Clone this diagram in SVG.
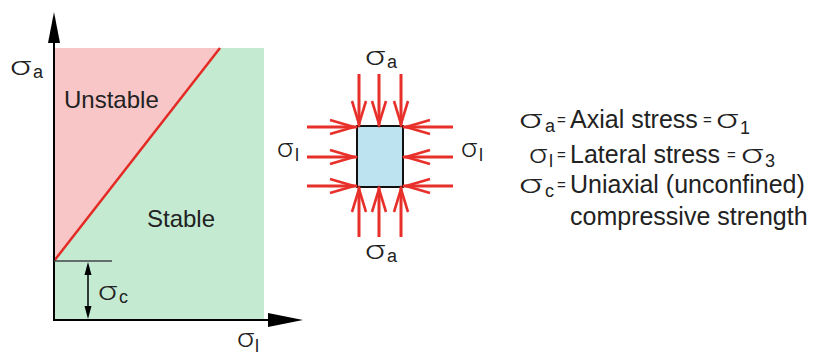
<svg xmlns="http://www.w3.org/2000/svg" width="823" height="355" viewBox="0 0 823 355">
<defs>
<style>
text{font-family:"Liberation Sans",Arial,sans-serif;fill:#222}
.t{font-size:24px}
.r{font-size:25px}
.sg{font-family:Roboto,"Liberation Sans",sans-serif;font-weight:300;font-size:26px}
.sub{font-size:18px}
.eq{font-size:15px}
.ar{stroke:#e8302a;stroke-width:3;fill:none;stroke-linecap:butt}
.hd{stroke:#e8302a;stroke-width:2.6;fill:none;stroke-linejoin:miter}
</style>
</defs>
<rect width="823" height="355" fill="#fff"/>
<g id="chart">
<rect x="54" y="48" width="210" height="272" fill="#c4ebd2"/>
<polygon points="54,48 220,48 54,261" fill="#f8c6c6"/>
<line x1="54" y1="261" x2="220" y2="48" stroke="#e42a25" stroke-width="2.5"/>
<text class="t" x="64" y="108">Unstable</text>
<text class="t" x="147" y="227">Stable</text>
</g>
<g id="axes">
<line x1="54" y1="321" x2="54" y2="38" stroke="#000" stroke-width="2"/>
<polygon points="54,12 48,43 60,43" fill="#000"/>
<line x1="53" y1="320" x2="272" y2="320" stroke="#000" stroke-width="2"/>
<polygon points="303,320 268,313 268,327" fill="#000"/>
<text class="sg" x="10" y="75" textLength="21" lengthAdjust="spacingAndGlyphs">σ</text>
<text class="sub" x="33" y="78">a</text>
<text class="sg" x="237" y="347" textLength="17" lengthAdjust="spacingAndGlyphs">σ</text>
<text class="sub" x="255" y="352">l</text>
</g>
<g id="sigma-c">
<line x1="54" y1="261" x2="112" y2="261" stroke="#444" stroke-width="1.5"/>
<line x1="88" y1="268" x2="88" y2="313" stroke="#000" stroke-width="1.5"/>
<polygon points="88,262 84.5,275 91.5,275" fill="#000"/>
<polygon points="88,319 84.5,306 91.5,306" fill="#000"/>
<text class="sg" x="98" y="300" textLength="19" lengthAdjust="spacingAndGlyphs">σ</text>
<text class="sub" x="119" y="303">c</text>
</g>
<g id="specimen">
<rect x="357" y="126" width="46" height="61" fill="#bde3f1" stroke="#111" stroke-width="2"/>
</g>
<g id="connectors">
<path class="ar" d="M359,74V126M379,74V126M401,74V126"/>
<path class="hd" d="M352,101L359,124L366,101M372,101L379,124L386,101M394,101L401,124L408,101"/>
<path class="ar" d="M359,237V187M379,237V187M401,237V187"/>
<path class="hd" d="M352,212L359,189L366,212M372,212L379,189L386,212M394,212L401,189L408,212"/>
<path class="ar" d="M307,127H357M307,157H357M307,186H357"/>
<path class="hd" d="M330,120L354,127L330,134M330,150L354,157L330,164M330,179L354,186L330,193"/>
<path class="ar" d="M453,127H403M453,157H403M453,186H403"/>
<path class="hd" d="M430,120L406,127L430,134M430,150L406,157L430,164M430,179L406,186L430,193"/>
</g>
<g id="specimen-labels">
<text class="sg" x="365" y="65" textLength="20" lengthAdjust="spacingAndGlyphs">σ</text>
<text class="sub" x="387" y="68">a</text>
<text class="sg" x="365" y="259" textLength="20" lengthAdjust="spacingAndGlyphs">σ</text>
<text class="sub" x="387" y="262">a</text>
<text class="sg" x="277" y="157" textLength="16" lengthAdjust="spacingAndGlyphs">σ</text>
<text class="sub" x="295" y="161">l</text>
<text class="sg" x="461" y="157" textLength="16" lengthAdjust="spacingAndGlyphs">σ</text>
<text class="sub" x="479" y="161">l</text>
</g>
<g id="legend">
<text class="sg" x="519" y="128" textLength="23" lengthAdjust="spacingAndGlyphs">σ</text>
<text class="sub" x="545" y="132">a</text>
<text class="eq" x="557" y="125">=</text>
<text class="r" x="570" y="128">Axial stress</text>
<text class="eq" x="703" y="125">=</text>
<text class="sg" x="716" y="128" textLength="22" lengthAdjust="spacingAndGlyphs">σ</text>
<text class="sub" x="740" y="134">1</text>
<text class="sg" x="529" y="163" textLength="18" lengthAdjust="spacingAndGlyphs">σ</text>
<text class="sub" x="549" y="167">l</text>
<text class="eq" x="557" y="160">=</text>
<text class="r" x="570" y="163">Lateral stress</text>
<text class="eq" x="727" y="160">=</text>
<text class="sg" x="741" y="163" textLength="22" lengthAdjust="spacingAndGlyphs">σ</text>
<text class="sub" x="765" y="167">3</text>
<text class="sg" x="519" y="193" textLength="23" lengthAdjust="spacingAndGlyphs">σ</text>
<text class="sub" x="545" y="197">c</text>
<text class="eq" x="557" y="190">=</text>
<text class="r" x="570" y="193">Uniaxial (unconfined)</text>
<text class="r" x="570" y="225">compressive strength</text>
</g>
</svg>
